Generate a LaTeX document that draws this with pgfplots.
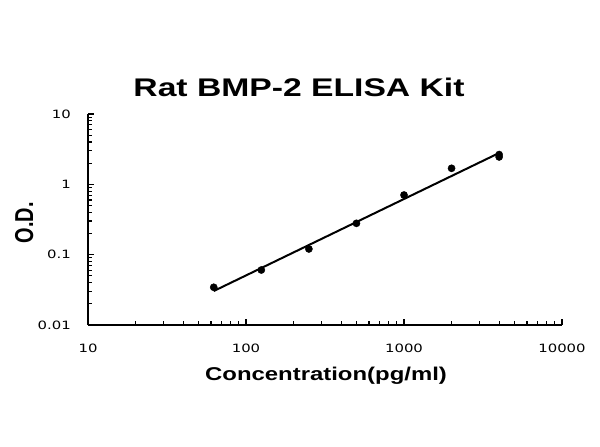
\documentclass[border=0pt]{standalone}
\usepackage{pgfplots}
\pgfplotsset{compat=1.18}
\usepackage{fontspec}
\setmainfont{Liberation Sans}
\newfontfamily\titlefont[FakeStretch=1.32]{Liberation Sans}
\newfontfamily\labelfont[FakeStretch=1.29]{Liberation Sans}
\newfontfamily\tickfont[FakeStretch=1.3]{DejaVu Sans}

\begin{document}
\begin{tikzpicture}[x=1bp,y=1bp]
    \useasboundingbox (0,0) rectangle (600,447);
    \begin{axis}
        [
            at={(88bp,122bp)},
            anchor=south west,
            scale only axis,
            width=474bp,
            height=211bp,
            xmode=log,
            ymode=log,
            xmin=10, xmax=10000,
            ymin=0.01, ymax=10,
            axis x line=bottom,
            axis y line=left,
            axis line style={-, line width=1.8bp, black},
            tick align=inside,
            tick style={black, line width=1.2bp},
            major tick length=6bp,
            minor tick length=4bp,
            xtick={10,100,1000,10000},
            xticklabels={10,100,1000,10000},
            minor xtick={20,30,40,50,60,70,80,90,200,300,400,500,600,700,800,900,2000,3000,4000,5000,6000,7000,8000,9000},
            ytick={0.01,0.1,1,10},
            yticklabels={0.01,0.1,1,10},
            minor ytick={0.02,0.03,0.04,0.05,0.06,0.07,0.08,0.09,0.2,0.3,0.4,0.5,0.6,0.7,0.8,0.9,2,3,4,5,6,7,8,9},
            ticklabel style={font=\fontsize{11.5}{13}\tickfont, inner sep=0pt},
            xticklabel style={anchor=north, yshift=-19bp},
            yticklabel style={anchor=east, xshift=-17bp},
            clip=false,
        ]
        % fitted line
        \addplot [black, line width=2bp] coordinates {
            (62.5, 0.0304)
            (4000, 2.79)
        };
        % standards
        \addplot [black, only marks, mark=*, mark size=3.6bp] table {
            62.5  0.0344
            125   0.0605
            250   0.1205
            500   0.279
            1000  0.705
            2000  1.69
            4000  2.45
            4000  2.65
        };
    \end{axis}
    \node [anchor=base, font=\fontsize{25.6}{28}\titlefont\bfseries] at (299,350.3) {Rat BMP-2 ELISA Kit};
    \node [anchor=base, font=\fontsize{18.6}{21}\labelfont\bfseries] at (326,66.3) {Concentration(pg/ml)};
    \node [anchor=base, rotate=90, font=\fontsize{20}{22}\bfseries] at (33,224.3) {\scalebox{1}[1.3]{O.D.}};
\end{tikzpicture}
\end{document}
